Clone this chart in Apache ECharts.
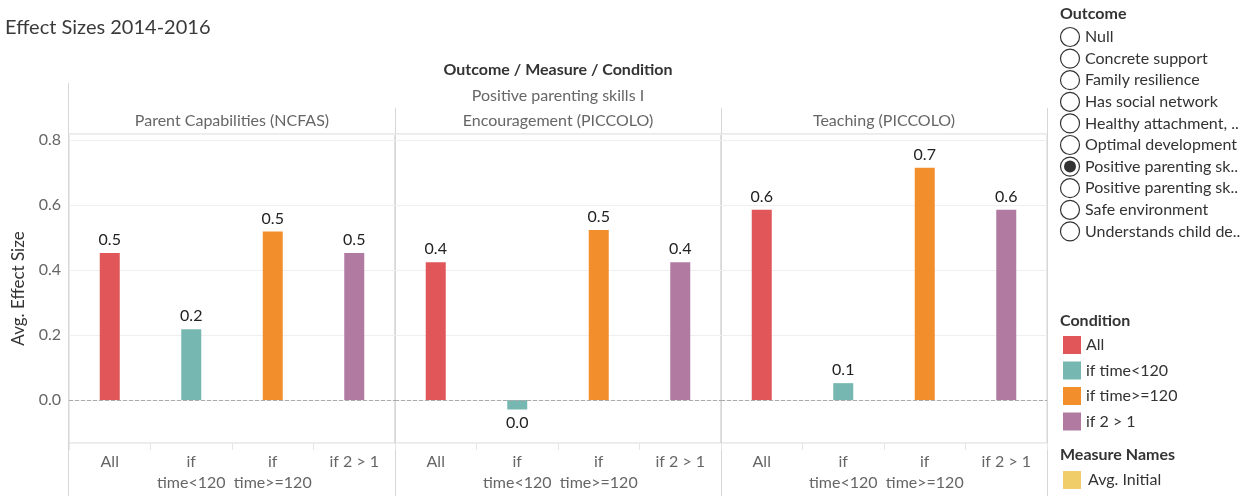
<!DOCTYPE html>
<html>
<head>
<meta charset="utf-8">
<script src="https://cdn.jsdelivr.net/npm/echarts@6/dist/echarts.min.js"></script>
<style>
html, body { margin: 0; padding: 0; background: #fff; }
#chart { width: 1255px; height: 496px; }
</style>
</head>
<body>
<div id="chart"></div>
<script>
(function () {

    // 数据
    var conditions = ['All', 'if time<120', 'if time>=120', 'if 2 > 1'];
    var axisLabels = ['All', 'if\ntime<120', 'if\ntime>=120', 'if 2 > 1'];
    var measures = ['Parent Capabilities (NCFAS)', 'Encouragement (PICCOLO)', 'Teaching (PICCOLO)'];
    var ncfasValues = [0.452, 0.218, 0.518, 0.452];
    var encouragementValues = [0.424, -0.029, 0.523, 0.424];
    var teachingValues = [0.585, 0.052, 0.714, 0.585];
    var outcomes = ['Null', 'Concrete support', 'Family resilience', 'Has social network',
        'Healthy attachment, ..', 'Optimal development', 'Positive parenting sk..',
        'Positive parenting sk..', 'Safe environment', 'Understands child de..'];
    var selectedOutcome = 6;
    var measureNames = ['Avg. Initial'];

    var panelValues = [ncfasValues, encouragementValues, teachingValues];
    var colors = ['#e15759', '#76b7b2', '#f28e2b', '#b07aa1'];
    var font = 'Lato, "Open Sans", sans-serif';

    var panelLeft = [69, 395, 721];
    var panelWidth = 326;
    var plotTop = 134, plotHeight = 309;

    var grids = [], xAxes = [], yAxes = [], series = [], titles = [], graphics = [];

    titles.push({
        text: 'Effect Sizes 2014-2016', left: 5, top: 18, padding: 0,
        textStyle: { fontSize: 20, fontWeight: 'normal', color: '#3a3a3a', fontFamily: font }
    });
    titles.push({
        text: 'Outcome / Measure / Condition', left: 558, top: 62, padding: 0, textAlign: 'center',
        textStyle: { fontSize: 16, fontWeight: 'bold', color: '#333', fontFamily: font }
    });
    titles.push({
        text: 'Positive parenting skills I', left: 558, top: 88, padding: 0, textAlign: 'center',
        textStyle: { fontSize: 16, fontWeight: 'normal', color: '#666', fontFamily: font }
    });

    panelValues.forEach(function (vals, p) {
        grids.push({
            left: panelLeft[p], top: plotTop, width: panelWidth, height: plotHeight,
            show: true, borderColor: '#d6d6d6', borderWidth: 1, backgroundColor: 'transparent'
        });
        titles.push({
            text: measures[p], left: panelLeft[p] + panelWidth / 2, top: 113, padding: 0, textAlign: 'center',
            textStyle: { fontSize: 16, fontWeight: 'normal', color: '#666', fontFamily: font }
        });
        xAxes.push({
            type: 'category', gridIndex: p, data: axisLabels,
            axisLine: { show: false, onZero: false },
            axisTick: { show: true, length: 7, lineStyle: { color: '#e6e6e6' } },
            axisLabel: { interval: 0, fontSize: 16, color: '#666', margin: 8, lineHeight: 21, fontFamily: font }
        });
        yAxes.push({
            type: 'value', gridIndex: p, min: -0.132, max: 0.818,
            name: p === 0 ? 'Avg. Effect Size' : '',
            nameLocation: 'middle', nameGap: 42,
            nameTextStyle: { fontSize: 17, color: '#333', fontFamily: font },
            axisLine: { show: false }, axisTick: { show: false },
            axisLabel: {
                show: p === 0, fontSize: 16, color: '#666', margin: 8, fontFamily: font,
                showMinLabel: false, showMaxLabel: false,
                formatter: function (v) { return v.toFixed(1); }
            },
            splitLine: { show: true, lineStyle: { color: '#efefef' } }
        });
        conditions.forEach(function (c, i) {
            var data = vals.map(function (v, j) {
                if (j !== i) return '-';
                return v < 0 ? { value: v, label: { position: 'bottom' } } : v;
            });
            var s = {
                name: c, type: 'bar', xAxisIndex: p, yAxisIndex: p,
                data: data, barWidth: 20, barGap: '-100%',
                itemStyle: { color: colors[i] },
                label: {
                    show: true, position: 'top', distance: 5,
                    fontSize: 16, color: '#222', fontFamily: font,
                    formatter: function (prm) { return (Math.round(prm.value * 10) / 10).toFixed(1); }
                }
            };
            if (i === 0) {
                s.markLine = {
                    silent: true, symbol: 'none', label: { show: false },
                    lineStyle: { color: '#aaa', type: 'dashed', width: 1 },
                    data: [{ yAxis: 0 }]
                };
            }
            series.push(s);
        });
    });

    // 面板分隔线
    graphics.push({ type: 'line', shape: { x1: 68.5, y1: 83, x2: 68.5, y2: 496 }, style: { stroke: '#d6d6d6', lineWidth: 1 } });
    [395.5, 721.5, 1047.5].forEach(function (x) {
        graphics.push({ type: 'line', shape: { x1: x, y1: 108, x2: x, y2: 496 }, style: { stroke: '#d6d6d6', lineWidth: 1 } });
    });

    // Outcome 单选过滤器
    graphics.push({ type: 'text', left: 1060, top: 6, style: { text: 'Outcome', font: 'bold 16px ' + font, fill: '#333' } });
    outcomes.forEach(function (o, i) {
        var cy = 37 + i * 21.6;
        graphics.push({ type: 'circle', shape: { cx: 1070, cy: cy, r: 9.5 }, style: { fill: '#fff', stroke: '#333', lineWidth: 1.2 } });
        if (i === selectedOutcome) {
            graphics.push({ type: 'circle', shape: { cx: 1070, cy: cy, r: 6 }, style: { fill: '#333' } });
        }
        graphics.push({ type: 'text', x: 1085, y: cy, style: { text: o, font: '16px ' + font, fill: '#333', textVerticalAlign: 'middle' } });
    });

    // 图例标题
    graphics.push({ type: 'text', left: 1060, top: 313, style: { text: 'Condition', font: 'bold 16px ' + font, fill: '#333' } });
    graphics.push({ type: 'text', left: 1060, top: 447, style: { text: 'Measure Names', font: 'bold 16px ' + font, fill: '#333' } });
    measureNames.forEach(function (m, i) {
        graphics.push({ type: 'rect', shape: { x: 1063, y: 471 + i * 25, width: 18, height: 18 }, style: { fill: '#f0cd68' } });
        graphics.push({ type: 'text', x: 1088, y: 480 + i * 25, style: { text: m, font: '16px ' + font, fill: '#333', textVerticalAlign: 'middle' } });
    });

    var chart = echarts.init(document.getElementById('chart'));
    chart.setOption({
        animation: false,
        title: titles,
        legend: {
            orient: 'vertical', left: 1063, top: 336, padding: 0,
            itemWidth: 18, itemHeight: 18, itemGap: 7.5, icon: 'rect',
            data: conditions,
            textStyle: { fontSize: 16, color: '#333', fontFamily: font }
        },
        grid: grids,
        xAxis: xAxes,
        yAxis: yAxes,
        series: series,
        graphic: graphics
    });
})();
</script>
</body>
</html>
